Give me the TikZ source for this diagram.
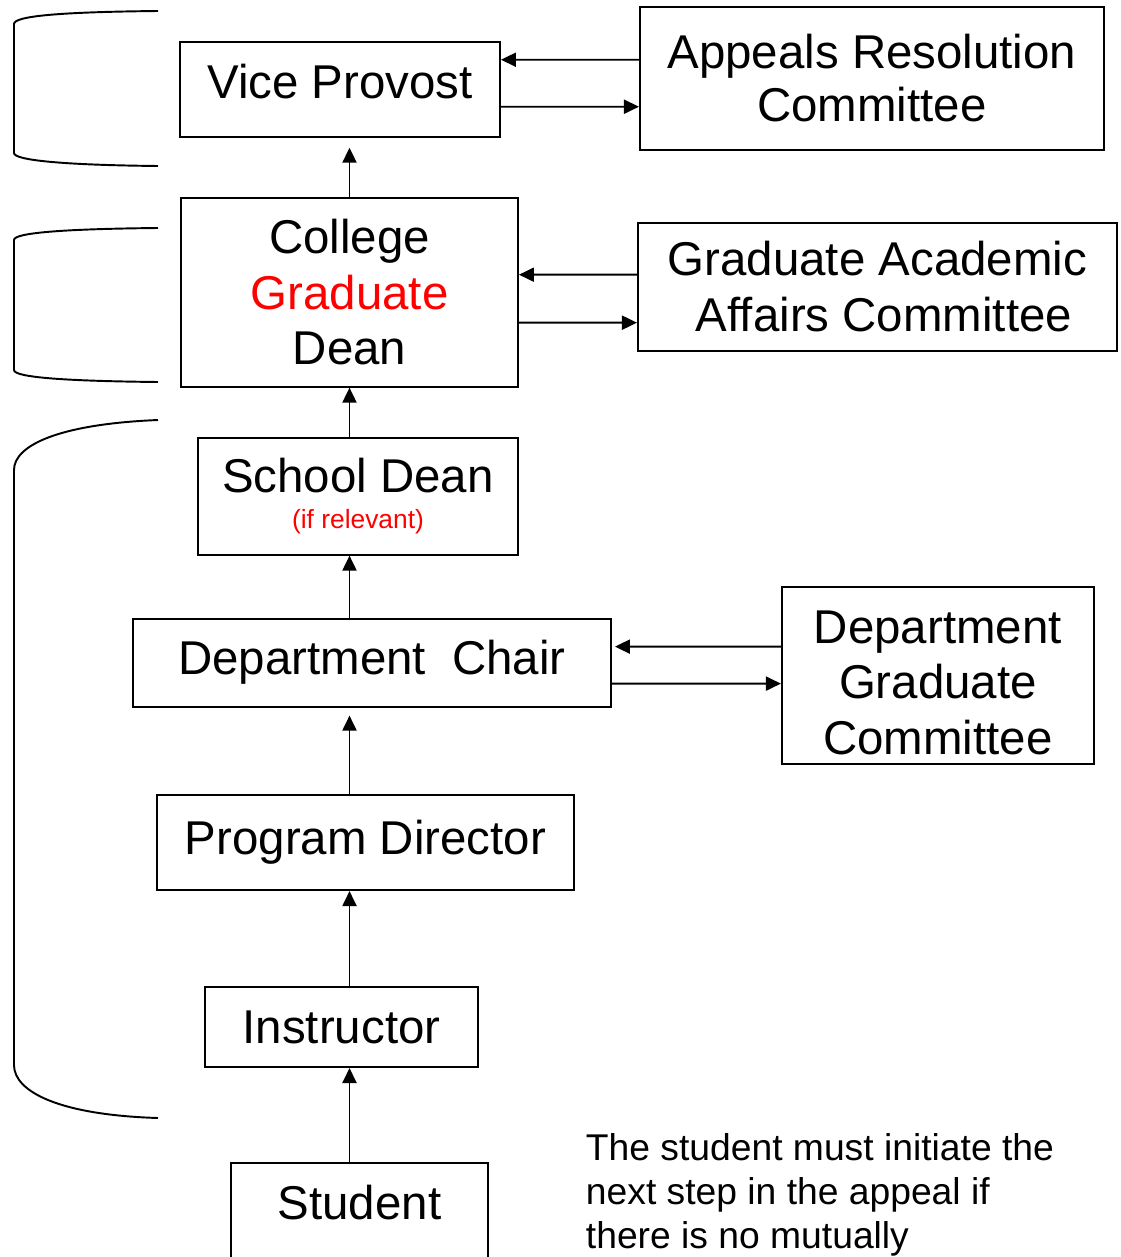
\documentclass[tikz,border=0pt]{standalone}
\usepackage{fontspec}
\setmainfont{Liberation Sans}
\usepackage{tikz}
\usetikzlibrary{arrows.meta}

\begin{document}
\begin{tikzpicture}[x=0.02cm,y=-0.02cm,node distance=3.6cm,line width=1.1pt,
    >={Triangle[length=0.3cm,width=0.28cm]},
    box/.style={draw,rectangle,inner sep=0pt,align=center,font=\fontsize{27}{31.5}\selectfont}]
                \useasboundingbox (0,0) rectangle (1120,1257);
                \clip (0,0) rectangle (1120,1257);
                \node[box,minimum width=5.14cm,minimum height=2.6cm,text depth=1.04cm] (student) at (359.5,1228) {Student};
                \node[box,minimum width=5.46cm,minimum height=1.6cm] (instr) [above of=student,xshift=-0.36cm,yshift=0.42cm] {Instructor};
                \node[box,minimum width=8.34cm,minimum height=1.9cm] (pdir) [above of=instr,xshift=0.48cm,yshift=0.09cm] {Program Director};
                \node[box,minimum width=9.56cm,minimum height=1.76cm] (chair) [above of=pdir,xshift=0.13cm] {Department\ \ Chair};
                \node[box,minimum width=6.4cm,minimum height=2.34cm] (sdean) [above of=chair,xshift=-0.28cm,yshift=-0.27cm] {School Dean\\[-0.40cm]{\fontsize{15}{18}\selectfont\color{red}(if relevant)}};
                \node[box,minimum width=6.74cm,minimum height=3.78cm] (cgd) [above of=sdean,xshift=-0.17cm,yshift=0.48cm] {College\\{\color{red}Graduate}\\Dean};
                \node[box,minimum width=6.4cm,minimum height=1.9cm,text depth=0.3cm] (vp) [above of=cgd,xshift=-0.19cm,yshift=0.46cm] {Vice Provost};
                \node[box,minimum width=9.28cm,minimum height=2.86cm] (arc) [right of=vp,xshift=7.04cm,yshift=0.22cm] {Appeals Resolution\\[-0.05cm]Committee};
                \node[box,minimum width=9.58cm,minimum height=2.56cm] (gaac) [right of=cgd,xshift=6.96cm,yshift=0.11cm] {Graduate Academic\\\ Affairs Committee};
                \node[box,minimum width=6.24cm,minimum height=3.54cm] (dgc) [right of=chair,xshift=7.72cm,yshift=-0.25cm] {\rule{0pt}{0.96cm}Department\\Graduate\\Committee};
                \node[anchor=north west,inner sep=0pt,align=left,font=\fontsize{21.2}{25}\selectfont] (note) at (585,1133) {The student must initiate the\\next step in the appeal if\\there is no mutually};

                % brackets on the left
                \draw (158,11) .. controls (60,12) and (14,16) .. (14,24) -- (14,153) .. controls (14,160) and (60,165) .. (158,166);
                \draw (158,228) .. controls (60,229) and (14,233) .. (14,240) -- (14,370) .. controls (14,377) and (60,381) .. (158,382);
                \draw (158,420) .. controls (60,424) and (14,445) .. (14,470) -- (14,1065) .. controls (14,1092) and (60,1115) .. (158,1118);

                \draw[every edge/.append style={->}]
                (student.north -| cgd) edge (instr.south -| cgd)
                (instr.north -| cgd) edge (pdir.south -| cgd)
                (pdir.north -| cgd) edge[shorten >=0.16cm] (chair.south -| cgd)
                (chair.north -| cgd) edge (sdean.south -| cgd)
                (sdean.north -| cgd) edge (cgd.south)
                (cgd.north) edge[shorten >=0.2cm] (vp.south -| cgd)
                ([yshift=0.37cm]arc.west) edge ([yshift=0.59cm]vp.east)
                ([yshift=-0.35cm]vp.east) edge ([yshift=-0.57cm]arc.west)
                ([yshift=0.24cm]gaac.west) edge ([yshift=0.35cm]cgd.east)
                ([yshift=-0.61cm]cgd.east) edge ([yshift=-0.72cm]gaac.west)
                ([yshift=0.57cm]dgc.west) edge[shorten >=0.06cm] ([yshift=0.32cm]chair.east)
                ([yshift=-0.42cm]chair.east) edge ([yshift=-0.17cm]dgc.west);
            \end{tikzpicture}
\end{document}
